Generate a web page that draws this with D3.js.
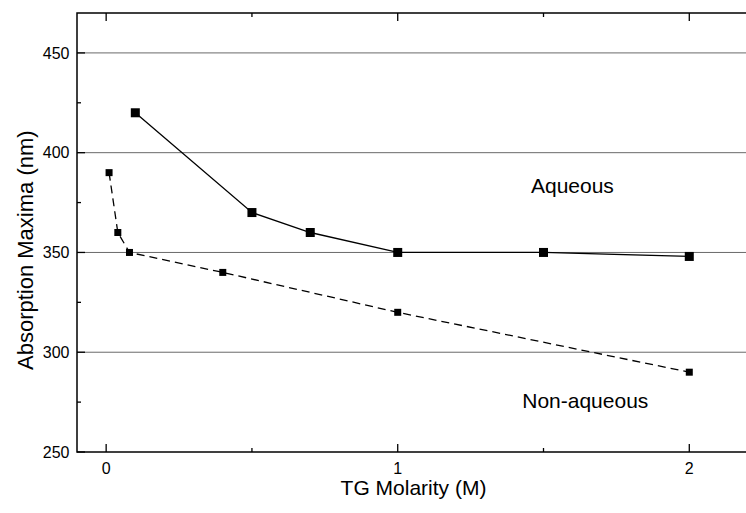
<!DOCTYPE html>
<html>
<head>
<meta charset="utf-8">
<script src="https://cdn.jsdelivr.net/npm/d3@7"></script>
<style>
  html, body { margin: 0; padding: 0; background: #fff; }
  svg { display: block; font-family: "Liberation Sans", Arial, sans-serif; }
</style>
</head>
<body>
<svg id="chart" width="746" height="513"></svg>
<script>
// ---- data ----
const aqueousX = [0.1, 0.5, 0.7, 1.0, 1.5, 2.0];
const aqueousY = [420, 370, 360, 350, 350, 348];
const nonAqueousX = [0.01, 0.04, 0.08, 0.4, 1.0, 2.0];
const nonAqueousY = [390, 360, 350, 340, 320, 290];
const xMajorTicks = [0, 1, 2];
const xMinorTicks = [0.5, 1.5];
const yMajorTicks = [250, 300, 350, 400, 450];
const yMinorTicks = [275, 325, 375, 425];
const gridValues = [300, 350, 400, 450];
const labelAqueous = {text: "Aqueous", x: 1.457, y: 380};
const labelNonAqueous = {text: "Non-aqueous", x: 1.427, y: 272.3};

const svg = d3.select("#chart");
const x = d3.scaleLinear().domain([-0.1, 2.2]).range([77, 747.6]);
const y = d3.scaleLinear().domain([250, 470]).range([452, 13]);
const [x0, x1] = x.range();
const [yb, yt] = y.range();

// gridlines
svg.append("g").selectAll("line").data(gridValues).join("line")
  .attr("x1", x0).attr("x2", x1)
  .attr("y1", d => y(d)).attr("y2", d => y(d))
  .attr("stroke", "#6a6a6a").attr("stroke-width", 1);

// frame
svg.append("rect").attr("x", x0).attr("y", yt).attr("width", x1 - x0).attr("height", yb - yt)
  .attr("fill", "none").attr("stroke", "#000").attr("stroke-width", 1.5);

// ticks (inward)
const tk = svg.append("g").attr("stroke", "#000").attr("stroke-width", 1.3);
xMajorTicks.forEach(v => {
  tk.append("line").attr("x1", x(v)).attr("x2", x(v)).attr("y1", yb).attr("y2", yb - 8);
  tk.append("line").attr("x1", x(v)).attr("x2", x(v)).attr("y1", yt).attr("y2", yt + 8);
});
xMinorTicks.forEach(v => {
  tk.append("line").attr("x1", x(v)).attr("x2", x(v)).attr("y1", yb).attr("y2", yb - 4);
  tk.append("line").attr("x1", x(v)).attr("x2", x(v)).attr("y1", yt).attr("y2", yt + 4);
});
yMajorTicks.forEach(v => {
  tk.append("line").attr("x1", x0).attr("x2", x0 + 8).attr("y1", y(v)).attr("y2", y(v));
});
yMinorTicks.forEach(v => {
  tk.append("line").attr("x1", x0).attr("x2", x0 + 4).attr("y1", y(v)).attr("y2", y(v));
});

// tick labels
svg.append("g").selectAll("text").data(xMajorTicks).join("text")
  .attr("x", d => x(d)).attr("y", 473.5).attr("text-anchor", "middle")
  .attr("font-size", 16).attr("fill", "#000").text(d => d);
svg.append("g").selectAll("text").data(yMajorTicks).join("text")
  .attr("x", 69.5).attr("y", d => y(d)).attr("dy", "0.36em").attr("text-anchor", "end")
  .attr("font-size", 16).attr("fill", "#000").text(d => d);

// axis titles
svg.append("text").attr("x", 413.5).attr("y", 495).attr("text-anchor", "middle")
  .attr("font-size", 21).attr("fill", "#000").text("TG Molarity (M)");
svg.append("text").attr("transform", "translate(33,370) rotate(-90)")
  .attr("text-anchor", "start").attr("font-size", 22).attr("fill", "#000")
  .text("Absorption Maxima (nm)");

// series
const aq = aqueousX.map((v, i) => ({x: v, y: aqueousY[i]}));
const na = nonAqueousX.map((v, i) => ({x: v, y: nonAqueousY[i]}));
const line = d3.line().x(d => x(d.x)).y(d => y(d.y));

svg.append("path").datum(na).attr("d", line).attr("fill", "none")
  .attr("stroke", "#000").attr("stroke-width", 1.3).attr("stroke-dasharray", "8,5");
svg.append("path").datum(aq).attr("d", line).attr("fill", "none")
  .attr("stroke", "#000").attr("stroke-width", 1.3);

svg.append("g").selectAll("rect").data(na).join("rect")
  .attr("x", d => x(d.x) - 3.5).attr("y", d => y(d.y) - 3.5)
  .attr("width", 7).attr("height", 7).attr("fill", "#000");
svg.append("g").selectAll("rect").data(aq).join("rect")
  .attr("x", d => x(d.x) - 4.5).attr("y", d => y(d.y) - 4.5)
  .attr("width", 9).attr("height", 9).attr("fill", "#000");

// annotations
[labelAqueous, labelNonAqueous].forEach(l => {
  svg.append("text").attr("x", x(l.x)).attr("y", y(l.y))
    .attr("font-size", 21).attr("fill", "#000").text(l.text);
});
</script>
</body>
</html>
